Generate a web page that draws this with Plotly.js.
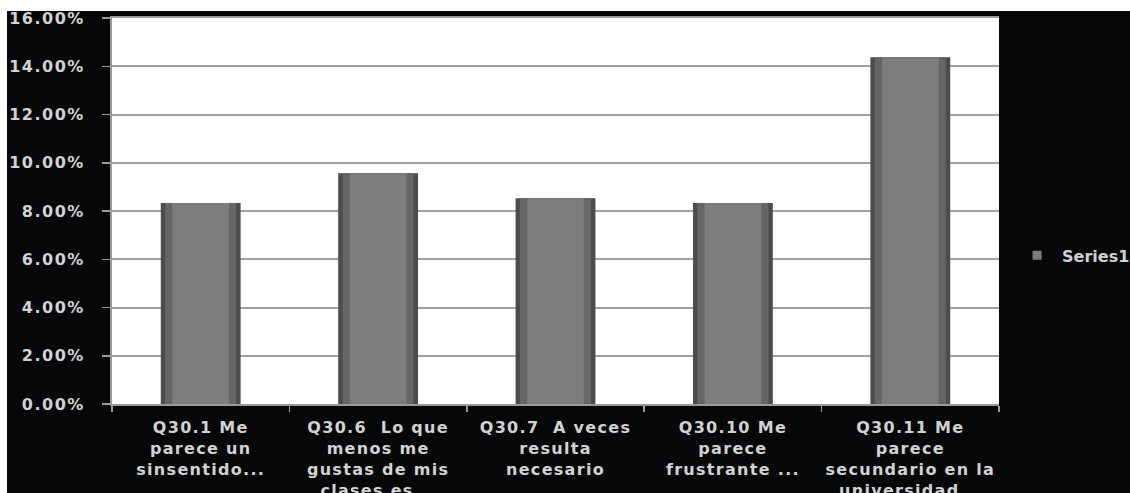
<!DOCTYPE html>
<html>
<head>
<meta charset="utf-8">
<script src="https://cdn.plot.ly/plotly-3.0.1.min.js"></script>
<style>
  html, body { margin: 0; padding: 0; background: #ffffff; width: 1130px; height: 493px; overflow: hidden; }
  #chart { position: absolute; left: 0; top: 0; width: 1130px; height: 493px; }
  #topstrip { position: absolute; left: 0; top: 0; width: 1130px; height: 11px; background: #ffffff; z-index: 10; }
  #leftstrip { position: absolute; left: 0; top: 0; width: 7px; height: 493px; background: #ffffff; z-index: 10; }
  #chart .ytick text { letter-spacing: 1.5px; }
  #chart .xtick text { letter-spacing: 1.3px; }
  #chart .legendpoints path { transform-box: fill-box; transform-origin: center; scale: 0.75; }
</style>
</head>
<body>
<div id="chart"></div>
<div id="topstrip"></div>
<div id="leftstrip"></div>
<script>
const categories = [
  "Q30.1 Me<br>parece un<br>sinsentido...",
  "Q30.6  Lo que<br>menos me<br>gustas de mis<br>clases es...",
  "Q30.7  A veces<br>resulta<br>necesario",
  "Q30.10 Me<br>parece<br>frustrante ...",
  "Q30.11 Me<br>parece<br>secundario en la<br>universidad..."
];
const seriesName = "Series1";
const values = [0.0833, 0.0956, 0.0853, 0.0833, 0.1437];
const yTicks = [0, 0.02, 0.04, 0.06, 0.08, 0.10, 0.12, 0.14, 0.16];

const textColor = "#d2d2d2";
const fam = "DejaVu Sans, sans-serif";

const traces = [
  {
    type: "bar", x: categories, y: values, name: seriesName,
    width: 0.45, marker: { color: "#4c4c4c", line: { width: 0 } },
    showlegend: false, hoverinfo: "skip"
  },
  {
    type: "bar", x: categories, y: values, name: seriesName,
    width: 0.40, marker: { color: "#666666", line: { width: 0 } },
    showlegend: false, hoverinfo: "skip"
  },
  {
    type: "bar", x: categories, y: values, name: seriesName,
    width: 0.32, marker: { color: "#7d7d7d", line: { width: 0 } },
    showlegend: true
  }
];

const layout = {
  width: 1130, height: 493,
  margin: { l: 112, r: 131, t: 18, b: 89, autoexpand: false },
  paper_bgcolor: "#060708",
  plot_bgcolor: "#ffffff",
  barmode: "overlay",
  font: { family: fam, size: 14, color: textColor, weight: "bold" },
  showlegend: true,
  legend: {
    x: 1.026, y: 0.385, xanchor: "left", yanchor: "middle",
    bgcolor: "rgba(0,0,0,0)",
    font: { family: fam, size: 16, color: textColor, weight: "bold" },
    itemwidth: 30
  },
  xaxis: {
    type: "category",
    tickson: "boundaries",
    ticks: "outside", ticklen: 6, tickcolor: "#9a9a9a", tickwidth: 1.5,
    ticklabelstandoff: 8,
    showline: true, linecolor: "#9a9a9a", linewidth: 2, mirror: true,
    showgrid: false,
    tickangle: 0,
    tickfont: { family: fam, size: 16, color: textColor, weight: "bold" },
    automargin: false
  },
  yaxis: {
    range: [0, 0.16],
    tickvals: yTicks,
    tickformat: ".2%",
    ticks: "outside", ticklen: 8, tickcolor: "#9a9a9a", tickwidth: 1.5,
    ticklabelstandoff: 14,
    showline: true, linecolor: "#9a9a9a", linewidth: 2,
    showgrid: true, gridcolor: "#a0a0a0", gridwidth: 2,
    zeroline: false,
    tickfont: { family: fam, size: 16, color: textColor, weight: "bold" },
    automargin: false
  }
};

Plotly.newPlot("chart", traces, layout, { staticPlot: true, displayModeBar: false });
</script>
</body>
</html>
